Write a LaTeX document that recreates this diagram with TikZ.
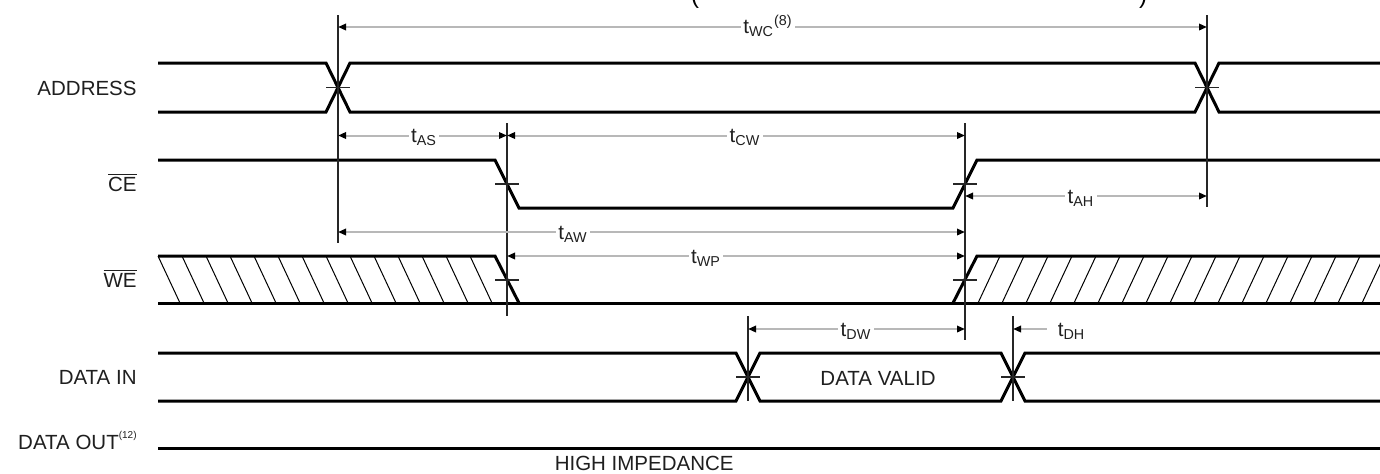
\documentclass[tikz,border=0pt]{standalone}
\usepackage{fontspec}
\setmainfont{Liberation Sans}
\usetikzlibrary{arrows.meta}
\tikzset{
  sig/.style={line width=1.5pt, black, line join=miter},
  vline/.style={line width=0.7pt, black!85},
  tickmark/.style={line width=0.6pt, black!85},
  hatchline/.style={line width=0.5pt, black},
  dimtip/.tip={Triangle[length=4pt,width=3.2pt,color=black]},
  dim/.style={line width=1pt, draw=black!28, dimtip-dimtip},
  dimone/.style={line width=1pt, draw=black!28, dimtip-},
  lab/.style={font=\fontsize{10.25}{12}\selectfont, text=black!88, inner sep=0pt},
  tlab/.style={lab, fill=white, inner xsep=1.2pt, inner ysep=0.6pt, anchor=base},
  frag/.style={font=\fontsize{12}{12}\selectfont, anchor=base, inner sep=0pt},
}
\begin{document}
\begin{tikzpicture}[x=0.5pt,y=-0.5pt]
\useasboundingbox (0,0) rectangle (1380,473);

% clipped fragments of the title
\node[frag] (parL) at (695,3) {(};
\node[frag] (parR) at (1143,3) {)};

% signal names
\node[lab, anchor=base east] (lAddr) at (137,95) {ADDRESS};
\node[lab, anchor=base east] (lCE) at (137,191.5) {$\overline{\hbox{CE}}$};
\node[lab, anchor=base east] (lWE) at (137,287.5) {$\overline{\hbox{WE}}$};
\node[lab, anchor=base east] (lDin) at (137,384.5) {DATA IN};
\node[lab, anchor=base east] (lDout) at (137,449) {DATA OUT\raisebox{5.5pt}{\fontsize{5}{5}\selectfont (12)}};

% hatching of WE
\foreach \k in {0,...,13} \draw[hatchline] ({158+24*\k},256) -- ({180+24*\k},303);
\begin{scope}
  \clip (977,250) rectangle (1380,310);
  \foreach \k in {0,...,16} \draw[hatchline] ({978+24*\k},303) -- ({1000+24*\k},256);
\end{scope}

% ADDRESS
\draw[sig] (158,63) -- (326,63) -- (350,112) -- (1195,112) -- (1219,63) -- (1380,63);
\draw[sig] (158,112) -- (326,112) -- (350,63) -- (1195,63) -- (1219,112) -- (1380,112);
\draw[tickmark] (326,87.5) -- (350,87.5);
\draw[tickmark] (1195,87.5) -- (1219,87.5);

% CE
\draw[sig] (158,160) -- (495,160) -- (519,208) -- (953,208) -- (977,160) -- (1380,160);
\draw[tickmark] (495,184) -- (519,184);
\draw[tickmark] (953,184) -- (977,184);

% WE
\draw[sig] (158,256) -- (495,256) -- (519,303);
\draw[sig] (158,303) -- (1380,303);
\draw[sig] (953,303) -- (977,256) -- (1380,256);
\draw[tickmark] (495,280) -- (519,280);
\draw[tickmark] (953,280) -- (977,280);

% DATA IN
\draw[sig] (158,353) -- (736,353) -- (760,401) -- (1001,401) -- (1025,353) -- (1380,353);
\draw[sig] (158,401) -- (736,401) -- (760,353) -- (1001,353) -- (1025,401) -- (1380,401);
\draw[tickmark] (736,377) -- (760,377);
\draw[tickmark] (1001,377) -- (1025,377);
\node[lab, anchor=base] (dv) at (878,385) {DATA VALID};

% DATA OUT
\draw[sig] (158,448) -- (1380,448);
\node[lab, anchor=base east] (hiz) at (734,470) {HIGH IMPEDANCE};

% reference lines
\draw[vline] (338,15) -- (338,243);
\draw[vline] (1207,15) -- (1207,207);
\draw[vline] (507,123) -- (507,316);
\draw[vline] (965,123) -- (965,340);
\draw[vline] (748,316) -- (748,401);
\draw[vline] (1013,316) -- (1013,401);

% timing arrows
\coordinate (wcA) at (338,27);   \coordinate (wcB) at (1207,27);
\coordinate (asA) at (338,135.5); \coordinate (asB) at (507,135.5);
\coordinate (cwA) at (507,135.5); \coordinate (cwB) at (965,135.5);
\coordinate (ahA) at (965,196);  \coordinate (ahB) at (1207,196);
\coordinate (awA) at (338,232);  \coordinate (awB) at (965,232);
\coordinate (wpA) at (507,256);  \coordinate (wpB) at (965,256);
\coordinate (dwA) at (748,329);  \coordinate (dwB) at (965,329);
\coordinate (dhA) at (1013,329); \coordinate (dhB) at (1047,329);

\draw[dim] (wcA) -- (wcB);
\draw[dim] (asA) -- (asB);
\draw[dim] (cwA) -- (cwB);
\draw[dim] (ahA) -- (ahB);
\draw[dim] (awA) -- (awB);
\draw[dim] (wpA) -- (wpB);
\draw[dim] (dwA) -- (dwB);
\draw[dimone] (dhA) -- (dhB);

\node[tlab] (twc) at (768,33) {t\textsubscript{WC}\textsuperscript{(8)}};
\node[tlab] (tas) at (424,142.5) {t\textsubscript{AS}};
\node[tlab] (tcw) at (745,142.5) {t\textsubscript{CW}};
\node[tlab] (tah) at (1081,203) {t\textsubscript{AH}};
\node[tlab] (taw) at (573,239) {t\textsubscript{AW}};
\node[tlab] (twp) at (706,263) {t\textsubscript{WP}};
\node[tlab] (tdw) at (856,336) {t\textsubscript{DW}};
\node[tlab, anchor=base west] (tdh) at (1055,336) {t\textsubscript{DH}};
\end{tikzpicture}
\end{document}
